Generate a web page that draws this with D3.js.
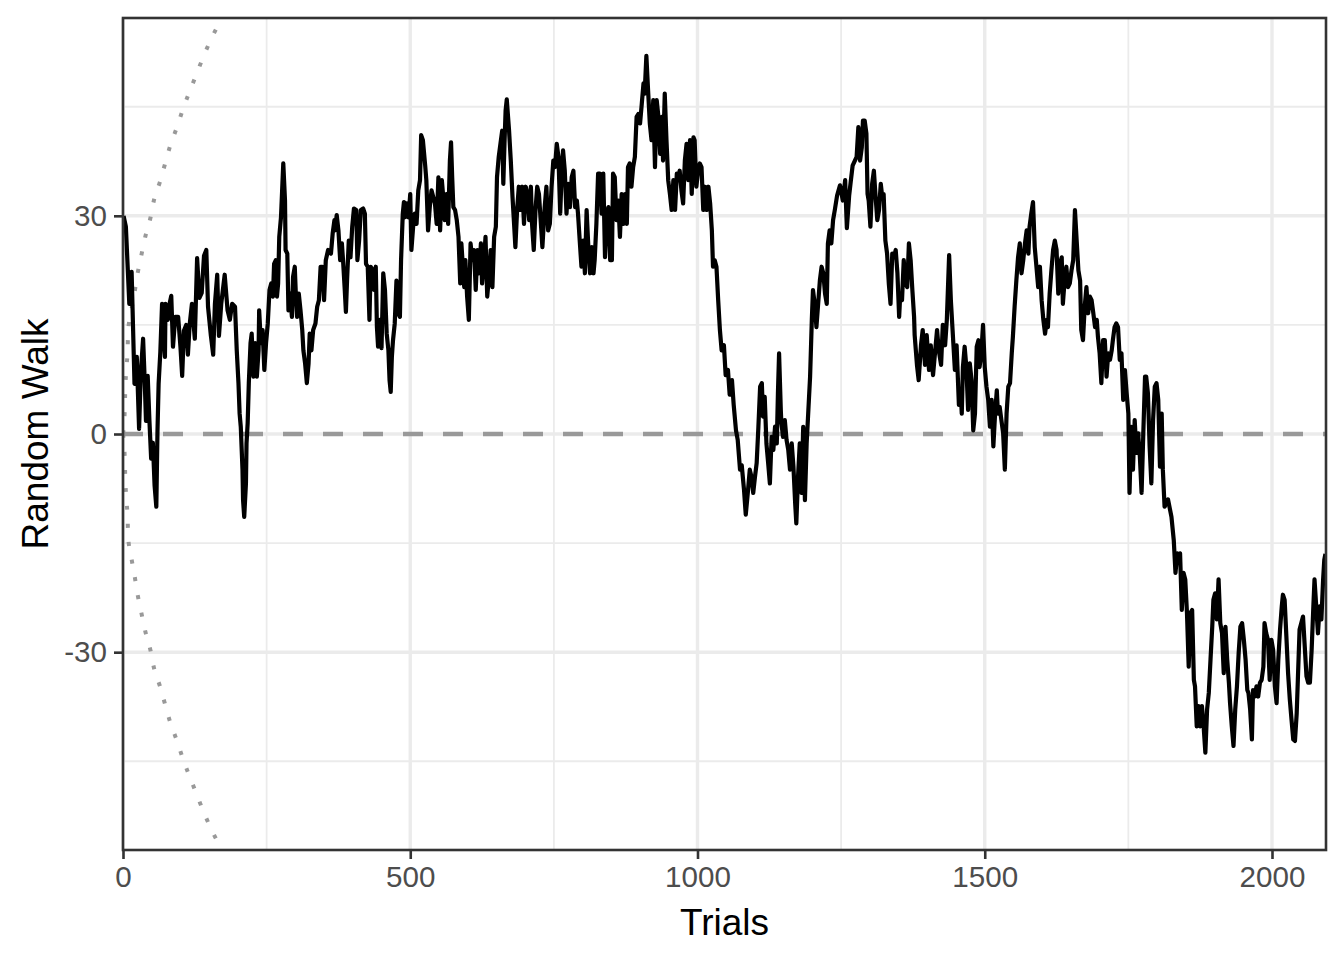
<!DOCTYPE html>
<html><head><meta charset="utf-8">
<script src="https://cdn.jsdelivr.net/npm/d3@7"></script>
<style>
body{margin:0;background:#fff}
svg{display:block}
text{font-family:"Liberation Sans", Arial, sans-serif}
</style>
</head><body>
<svg id="chart" width="1344" height="960"></svg>
<script>
// ---- data ----
const walk = [
[1,30.0],[5,28.5],[11,17.9],[15,22.3],[20,6.9],[24,10.6],[28,0.7],[31,8.4],[35,13.1],[38,6.9],
[40,1.8],[43,8.0],[46,1.8],[49,-3.4],[52,-1.2],[55,-7.1],[58,-10.0],[60,0.3],[62,6.9],[65,11.3],
[68,17.9],[73,10.6],[74,17.9],[78,15.7],[81,17.9],[84,19.0],[87,12.0],[91,16.1],[96,16.1],[100,12.0],
[103,8.0],[106,14.2],[110,15.0],[113,10.9],[116,15.0],[120,17.9],[125,13.1],[129,24.2],[133,18.7],[137,19.4],
[141,24.5],[145,25.3],[148,17.5],[153,13.5],[157,10.9],[160,17.9],[164,21.9],[167,13.5],[171,17.9],[177,21.9],
[182,17.0],[186,15.7],[190,17.9],[195,17.5],[198,11.5],[201,7.0],[203,2.8],[205,1.0],[208,-4.9],[209,-9.1],
[211,-11.4],[214,-6.8],[215,-1.3],[217,1.5],[219,7.0],[222,12.5],[224,13.8],[227,7.9],[230,12.5],[233,7.9],
[236,11.5],[237,17.0],[240,12.5],[243,14.3],[246,8.8],[249,12.5],[252,15.2],[255,19.8],[258,20.7],[261,18.9],
[263,23.4],[266,23.9],[268,18.9],[270,20.7],[272,27.1],[275,29.8],[277,33.5],[279,37.2],[282,32.1],[283,25.3],
[286,24.8],[288,17.0],[291,19.3],[294,16.1],[296,21.6],[299,23.0],[301,18.9],[303,16.1],[306,19.3],[309,17.0],
[312,14.3],[314,11.5],[317,9.7],[320,7.0],[323,9.7],[325,13.8],[328,11.5],[331,14.3],[335,15.2],[338,17.5],
[341,18.4],[344,23.0],[347,23.0],[350,18.4],[353,23.9],[357,25.3],[362,24.8],[365,27.6],[368,29.4],[369,28.0],
[372,30.1],[375,28.0],[378,23.9],[381,26.2],[383,23.9],[386,19.8],[388,16.8],[390,21.1],[393,26.6],[396,24.3],
[399,28.5],[402,31.0],[406,30.8],[408,23.9],[411,26.6],[414,30.8],[418,31.0],[421,30.3],[423,23.4],[426,23.0],
[429,15.7],[431,23.0],[435,22.5],[437,19.8],[440,23.0],[442,14.7],[444,12.0],[447,15.7],[450,11.8],[453,22.1],
[456,19.8],[459,13.8],[462,11.5],[464,7.4],[466,5.8],[468,10.6],[470,12.9],[473,15.2],[476,21.1],[479,16.6],
[482,16.1],[484,23.9],[487,30.3],[489,31.9],[491,29.8],[494,31.7],[497,29.8],[500,33.0],[502,25.3],[505,28.5],
[508,30.3],[511,28.9],[514,33.5],[517,34.9],[519,41.1],[522,40.4],[526,36.9],[528,34.9],[531,28.0],[534,31.2],
[537,33.5],[543,31.7],[546,28.9],[549,35.3],[552,28.0],[555,34.9],[557,33.0],[560,29.4],[563,33.0],[566,28.9],
[569,37.6],[571,40.1],[573,35.3],[575,31.2],[578,30.8],[581,29.4],[584,27.1],[587,20.7],[589,26.2],[592,22.5],
[594,20.2],[596,23.9],[599,18.9],[602,15.7],[605,26.2],[608,23.9],[611,25.3],[614,19.8],[617,25.3],[620,22.1],
[623,26.2],[625,20.7],[628,23.4],[631,27.1],[634,18.9],[637,21.6],[640,25.3],[643,20.2],[646,27.1],[649,28.5],
[651,35.3],[654,38.1],[657,39.9],[660,41.7],[662,34.4],[664,39.9],[666,44.5],[668,46.0],[672,41.7],[675,37.6],
[678,32.6],[681,28.5],[683,25.7],[686,30.8],[689,34.0],[692,30.8],[695,34.0],[698,28.9],[701,34.0],[704,33.0],
[707,29.4],[710,34.0],[712,28.9],[715,25.3],[718,30.8],[721,34.0],[724,33.0],[727,29.4],[730,25.7],[734,31.2],
[737,34.0],[740,28.0],[743,28.9],[746,34.0],[749,37.6],[752,36.7],[755,39.9],[758,38.1],[761,30.3],[764,36.7],
[766,39.0],[769,36.2],[772,30.3],[775,34.4],[778,31.2],[781,35.3],[784,36.2],[787,31.2],[790,32.1],[792,30.3],
[795,26.6],[798,23.0],[801,26.6],[804,22.1],[807,30.8],[810,25.7],[813,22.1],[816,25.7],[819,22.1],[821,23.9],
[824,28.9],[827,35.8],[830,35.8],[833,30.3],[836,35.8],[839,24.3],[842,30.3],[845,31.2],[848,23.9],[851,23.9],
[853,35.8],[856,35.3],[859,29.4],[862,32.1],[865,27.1],[868,33.0],[871,28.9],[874,33.0],[877,28.9],[879,36.7],
[882,37.2],[885,34.0],[888,36.7],[891,38.1],[894,43.6],[897,44.0],[900,42.7],[903,45.4],[906,48.2],[908,46.8],
[911,52.0],[914,47.2],[917,42.7],[920,40.4],[923,45.9],[926,36.7],[929,45.9],[932,43.6],[935,38.5],[938,43.6],
[940,37.6],[943,46.8],[946,40.4],[949,34.9],[952,33.0],[955,30.8],[958,34.9],[961,30.8],[964,35.8],[966,34.9],
[969,36.2],[972,33.5],[975,31.7],[978,37.6],[981,39.9],[984,34.9],[987,40.4],[990,33.0],[993,40.8],[995,40.4],
[998,34.0],[1001,36.2],[1004,37.2],[1007,36.7],[1010,30.8],[1013,34.0],[1016,30.8],[1019,34.0],[1022,31.7],[1025,28.0],
[1027,23.0],[1030,23.9],[1033,23.0],[1036,18.4],[1039,14.3],[1042,11.5],[1046,12.2],[1049,8.1],[1053,8.8],[1056,5.4],
[1060,7.4],[1063,4.0],[1067,0.5],[1070,-0.8],[1074,-4.9],[1077,-4.3],[1081,-7.7],[1084,-11.1],[1088,-7.7],[1091,-4.9],
[1094,-5.9],[1097,-8.1],[1100,-5.9],[1103,-4.0],[1106,1.0],[1109,6.5],[1112,7.0],[1114,2.4],[1117,5.1],[1120,-1.3],
[1123,-4.0],[1126,-6.8],[1129,-0.4],[1132,-2.2],[1135,1.0],[1138,-1.3],[1140,5.6],[1142,11.1],[1145,3.3],[1146,1.5],
[1149,-0.4],[1152,1.9],[1155,-0.8],[1158,-2.2],[1161,-4.9],[1164,-1.3],[1167,-4.5],[1170,-9.5],[1172,-12.3],[1175,-5.9],
[1178,-1.3],[1181,-8.1],[1184,1.0],[1187,-9.1],[1190,-1.3],[1193,3.3],[1196,7.9],[1199,15.7],[1201,19.8],[1204,17.9],
[1207,14.7],[1210,17.9],[1213,21.1],[1216,23.0],[1219,22.1],[1222,19.3],[1225,17.9],[1227,26.2],[1230,28.0],[1233,26.2],
[1236,29.4],[1239,30.8],[1243,32.8],[1248,34.2],[1253,32.1],[1257,34.9],[1260,28.3],[1264,32.8],[1267,34.9],[1270,36.9],
[1274,37.6],[1277,38.1],[1280,42.2],[1283,37.6],[1286,39.4],[1288,43.1],[1291,43.1],[1294,41.3],[1296,33.0],[1298,32.1],
[1301,28.5],[1304,34.4],[1307,36.2],[1310,32.6],[1313,29.4],[1316,30.8],[1319,34.4],[1321,33.0],[1324,33.0],[1327,26.6],
[1330,24.8],[1333,20.7],[1336,17.9],[1339,24.8],[1342,24.3],[1345,25.3],[1348,22.1],[1351,16.1],[1353,19.3],[1356,18.4],
[1359,23.9],[1362,20.7],[1365,20.2],[1368,26.2],[1371,23.9],[1374,19.8],[1377,16.1],[1378,13.6],[1382,9.5],[1385,7.4],
[1389,12.2],[1392,14.3],[1396,9.5],[1399,13.6],[1403,8.8],[1406,12.2],[1410,8.1],[1413,10.8],[1417,14.3],[1420,11.5],
[1424,9.5],[1427,15.0],[1431,12.2],[1434,15.7],[1438,24.6],[1441,18.4],[1444,14.3],[1448,8.8],[1451,12.2],[1455,4.0],
[1458,6.0],[1460,2.8],[1462,9.2],[1465,12.0],[1468,9.2],[1471,3.3],[1474,9.7],[1477,7.4],[1480,0.5],[1483,2.8],
[1486,12.0],[1489,12.9],[1491,9.2],[1494,11.1],[1497,15.0],[1500,9.2],[1503,6.5],[1506,4.7],[1509,1.0],[1512,4.7],
[1515,-1.7],[1518,2.8],[1521,6.0],[1523,2.8],[1526,3.7],[1529,1.9],[1532,0.1],[1535,-4.9],[1538,2.8],[1541,6.5],
[1544,7.0],[1547,11.1],[1549,13.4],[1552,17.5],[1555,21.1],[1558,24.3],[1561,26.2],[1564,22.1],[1567,23.9],[1570,26.2],
[1573,28.0],[1576,24.8],[1578,28.5],[1581,30.3],[1584,31.9],[1587,25.7],[1590,23.0],[1593,20.2],[1596,23.0],[1599,18.4],
[1602,15.7],[1605,13.8],[1608,15.7],[1610,14.7],[1613,19.3],[1616,22.5],[1619,25.3],[1622,26.6],[1625,25.3],[1628,19.3],
[1631,23.4],[1634,24.3],[1636,17.9],[1639,21.1],[1642,23.0],[1645,20.2],[1648,20.7],[1651,22.5],[1654,23.9],[1657,30.8],
[1660,26.6],[1663,22.5],[1666,21.1],[1668,14.3],[1671,12.9],[1674,17.5],[1677,20.2],[1680,16.6],[1683,18.9],[1686,18.4],
[1689,16.6],[1692,14.7],[1695,15.7],[1697,13.4],[1700,11.1],[1703,7.0],[1706,12.9],[1709,12.9],[1712,7.9],[1715,11.1],
[1718,10.2],[1721,11.5],[1723,12.9],[1726,14.7],[1729,15.2],[1732,14.7],[1735,10.2],[1738,11.1],[1741,4.7],[1744,8.8],
[1747,5.6],[1750,2.8],[1752,-8.1],[1755,1.0],[1758,-4.9],[1761,1.9],[1764,-2.6],[1767,0.1],[1770,-3.1],[1773,-8.1],
[1776,0.1],[1779,7.9],[1781,7.9],[1784,5.6],[1787,-1.7],[1790,-6.8],[1793,1.9],[1796,6.5],[1799,7.0],[1802,4.7],
[1805,-4.5],[1808,2.8],[1810,-4.9],[1813,-10.0],[1819,-9.0],[1825,-11.4],[1829,-14.6],[1832,-19.1],[1835,-16.4],[1837,-17.3],
[1840,-16.4],[1843,-24.2],[1846,-19.1],[1849,-20.0],[1852,-24.6],[1855,-32.0],[1858,-24.6],[1861,-24.2],[1864,-33.8],[1866,-34.7],
[1869,-40.2],[1872,-37.4],[1875,-40.2],[1878,-37.4],[1881,-40.2],[1884,-43.8],[1887,-37.9],[1890,-35.6],[1893,-31.0],[1896,-26.5],
[1898,-22.8],[1901,-21.9],[1904,-25.5],[1907,-20.0],[1910,-26.0],[1913,-27.4],[1916,-32.9],[1919,-26.5],[1922,-31.0],[1925,-34.2],
[1927,-37.0],[1930,-40.2],[1933,-42.9],[1936,-37.9],[1939,-34.7],[1942,-30.1],[1945,-26.5],[1948,-26.0],[1951,-28.3],[1954,-31.0],
[1957,-35.2],[1959,-35.6],[1962,-37.9],[1965,-42.0],[1967,-35.2],[1970,-36.1],[1973,-34.7],[1976,-36.1],[1979,-34.2],[1982,-33.8],
[1985,-32.0],[1987,-26.0],[1990,-27.4],[1993,-28.3],[1996,-33.8],[1999,-28.3],[2002,-29.7],[2005,-34.7],[2008,-37.0],[2011,-31.0],
[2014,-26.9],[2017,-23.7],[2019,-22.1],[2022,-22.8],[2025,-27.8],[2028,-32.9],[2031,-36.5],[2034,-39.3],[2037,-42.0],[2040,-42.2],
[2043,-38.4],[2045,-33.8],[2048,-26.9],[2051,-26.0],[2054,-25.1],[2057,-29.2],[2060,-33.3],[2063,-34.2],[2066,-34.2],[2069,-29.7],
[2072,-23.7],[2074,-20.0],[2077,-23.7],[2080,-27.4],[2083,-23.7],[2086,-25.5],[2089,-20.0],[2091,-17.3],[2093,-16.5]
];
const boundaryUpper = [
[0,0],[3,3.2],[4,6.2],[6,9.1],[8,11.5],[9,14.2],[14,16.8],[20,19.4],[25,21.9],[32,24.6],[39,27.2],
[48,29.8],[54,32.2],[64,34.6],[73,37.1],[82,39.6],[94,42.2],[104,44.6],[115,46.9],[127,49.3],
[139,51.7],[151,53.9],[165,56.1],[178,57.8]
];
const boundaryLower = [
[0,0],[3,-3.2],[4,-6.2],[6,-9.1],[8,-11.5],[9,-14.2],[14,-16.8],[20,-19.4],[25,-21.9],[32,-24.6],[39,-27.2],
[48,-29.8],[54,-32.2],[64,-34.6],[73,-37.1],[82,-39.6],[94,-42.2],[104,-44.6],[115,-46.9],[127,-49.3],
[139,-51.7],[151,-53.9],[165,-56.1],[178,-57.8]
];
const xTicks = [0, 500, 1000, 1500, 2000];
const xMinor = [250, 750, 1250, 1750];
const yTicks = [-30, 0, 30];
const yMinor = [-45, -15, 15, 45];
const xTitle = "Trials";
const yTitle = "Random Walk";

// ---- layout ----
const P = {l:123, t:18, r:1326, b:850};
const svg = d3.select("#chart");
const x = d3.scaleLinear().domain([0, 2094]).range([P.l, P.r]);
const y = d3.scaleLinear().domain([-57.2, 57.2]).range([P.b, P.t]);

svg.append("rect").attr("width",1344).attr("height",960).attr("fill","#fff");
svg.append("defs").append("clipPath").attr("id","panel")
  .append("rect").attr("x",P.l).attr("y",P.t).attr("width",P.r-P.l).attr("height",P.b-P.t);

const grid = svg.append("g");
grid.selectAll(".vmin").data(xMinor).join("line")
  .attr("x1",d=>x(d)).attr("x2",d=>x(d)).attr("y1",P.t).attr("y2",P.b)
  .attr("stroke","#EBEBEB").attr("stroke-width",1.8);
grid.selectAll(".hmin").data(yMinor).join("line")
  .attr("y1",d=>y(d)).attr("y2",d=>y(d)).attr("x1",P.l).attr("x2",P.r)
  .attr("stroke","#EBEBEB").attr("stroke-width",1.8);
grid.selectAll(".vmaj").data(xTicks).join("line")
  .attr("x1",d=>x(d)).attr("x2",d=>x(d)).attr("y1",P.t).attr("y2",P.b)
  .attr("stroke","#EBEBEB").attr("stroke-width",3.4);
grid.selectAll(".hmaj").data(yTicks).join("line")
  .attr("y1",d=>y(d)).attr("y2",d=>y(d)).attr("x1",P.l).attr("x2",P.r)
  .attr("stroke","#EBEBEB").attr("stroke-width",3.4);

const plot = svg.append("g").attr("clip-path","url(#panel)");
plot.append("line").attr("x1",P.l).attr("x2",P.r).attr("y1",y(0)).attr("y2",y(0))
  .attr("stroke","#999999").attr("stroke-width",4.5).attr("stroke-dasharray","20,20");

[boundaryUpper, boundaryLower].forEach(b=>{
  plot.append("path").datum(b)
    .attr("d", d3.line().x(d=>x(d[0])).y(d=>y(d[1])).curve(d3.curveMonotoneX))
    .attr("fill","none").attr("stroke","#999999").attr("stroke-width",4)
    .attr("stroke-dasharray","4,14");
});
plot.append("path").datum(walk)
  .attr("d", d3.line().x(d=>x(d[0])).y(d=>y(d[1])))
  .attr("fill","none").attr("stroke","#000").attr("stroke-width",4.2)
  .attr("stroke-linejoin","round");

svg.append("rect").attr("x",P.l).attr("y",P.t).attr("width",P.r-P.l).attr("height",P.b-P.t)
  .attr("fill","none").attr("stroke","#333333").attr("stroke-width",2.6);

const ax = svg.append("g").attr("transform",`translate(0,${P.b})`)
  .call(d3.axisBottom(x).tickValues(xTicks).tickSize(9).tickPadding(7).tickFormat(d3.format("d")));
const ay = svg.append("g").attr("transform",`translate(${P.l},0)`)
  .call(d3.axisLeft(y).tickValues(yTicks).tickSize(9).tickPadding(7).tickFormat(d=>String(d)));
[ax, ay].forEach(a=>{
  a.select(".domain").remove();
  a.selectAll(".tick line").attr("stroke","#333333").attr("stroke-width",2.6);
  a.selectAll(".tick text").attr("fill","#4D4D4D").style("font-size","29.6px")
    .style("font-family",'"Liberation Sans", Arial, sans-serif');
});

svg.append("text").attr("x",(P.l+P.r)/2).attr("y",935).attr("text-anchor","middle")
  .style("font-size","37px").attr("fill","#000").text(xTitle);
svg.append("text").attr("transform",`translate(48,${(P.t+P.b)/2}) rotate(-90)`)
  .attr("text-anchor","middle").style("font-size","37px").attr("fill","#000").text(yTitle);
</script>
</body></html>
